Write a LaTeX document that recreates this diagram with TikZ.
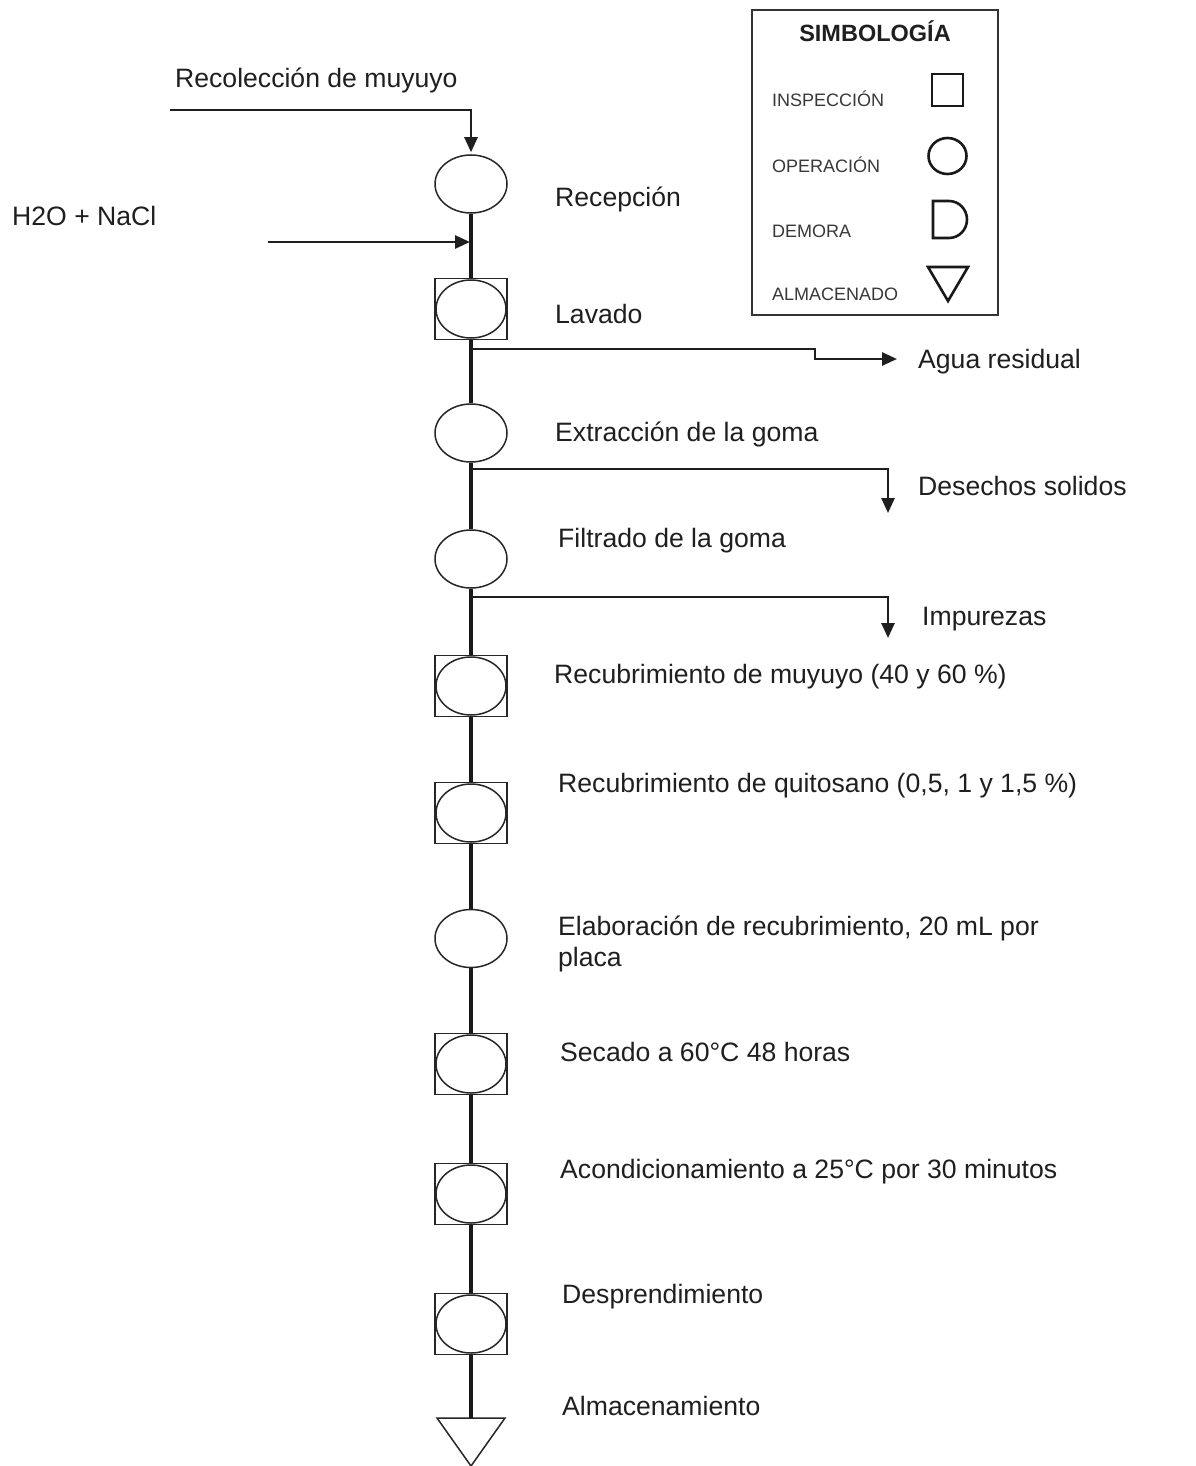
\documentclass[tikz,border=0pt]{standalone}
\usepackage{fontspec}
\setmainfont{Liberation Sans}
\usetikzlibrary{shapes.geometric,arrows.meta}
\begin{document}
\begin{tikzpicture}[x=1pt,y=-1pt,
 txt/.style={anchor=base west, inner sep=0pt, text=black!88, font=\fontsize{26.6}{30}\selectfont},
 leg/.style={anchor=base west, inner sep=0pt, text=black!78, font=\fontsize{18}{21}\selectfont},
 oper/.style={ellipse, draw=black!85, line width=1.5pt, minimum width=72pt, minimum height=58pt, inner sep=0pt},
 combo/.style={rectangle, draw=black!85, line width=1.6pt, minimum width=72pt, minimum height=61pt, inner sep=0pt,
   path picture={\draw[line width=1.5pt, black!85] (path picture bounding box.center) ellipse (35pt and 29pt);}},
 flow/.style={line width=3.4pt, black!90},
 side/.style={line width=2.6pt, black!88, -{Triangle[length=15pt,width=13pt]}},
 legsym/.style={line width=2.6pt, black!90},
]
\useasboundingbox (0,0) rectangle (1195,1466);
\fill[white] (0,0) rectangle (1195,1466);

% legend
\node[draw=black!80, line width=1.6pt, minimum width=246pt, minimum height=305pt, inner sep=0pt] (legend) at (875,162.5) {};
\node[anchor=base, inner sep=0pt, text=black!88, font=\fontsize{23.5}{26}\selectfont\bfseries] (legtitle) at (875,42) {SIMBOLOGÍA};
\node[leg] (l1) at (772,107) {INSPECCIÓN};
\node[leg] (l2) at (772,173) {OPERACIÓN};
\node[leg] (l3) at (772,237) {DEMORA};
\node[leg] (l4) at (772,300) {ALMACENADO};
\draw[legsym, line width=2.2pt] (932,74) rectangle (963,106);
\draw[legsym] (947.5,156) ellipse (19pt and 18pt);
\draw[legsym, line join=miter] (933,201) -- (949,201) arc[start angle=-90, end angle=90, x radius=18, y radius=18.5] -- (933,238) -- cycle;
\draw[legsym, line join=miter] (928,267) -- (968,267) -- (948,301) -- cycle;

% process symbols
\node[oper] (recep) at (471,184) {};
\node[combo] (lav) at (471,309) {};
\node[oper] (extr) at (471,433) {};
\node[oper] (filt) at (471,559) {};
\node[combo] (rmuy) at (471,686) {};
\node[combo] (rqui) at (471,813) {};
\node[oper] (elab) at (471,938.5) {};
\node[combo] (sec) at (471,1064) {};
\node[combo] (acon) at (471,1194) {};
\node[combo] (desp) at (471,1324) {};
\coordinate (alm) at (471,1418);
\draw[draw=black!85, fill=white, line width=1.5pt] (437,1418) -- (505,1418) -- (471,1466) -- cycle;

% main flow line
\draw[flow] (recep.south) -- (lav.north);
\draw[flow] (lav.south) -- (extr.north);
\draw[flow] (extr.south) -- (filt.north);
\draw[flow] (filt.south) -- (rmuy.north);
\draw[flow] (rmuy.south) -- (rqui.north);
\draw[flow] (rqui.south) -- (elab.north);
\draw[flow] (elab.south) -- (sec.north);
\draw[flow] (sec.south) -- (acon.north);
\draw[flow] (acon.south) -- (desp.north);
\draw[flow] (desp.south) -- (alm);

% inputs
\coordinate (recolStart) at (170,110);
\draw[side] (recolStart) -| ([yshift=2pt]recep.north);
\coordinate (h2oStart) at (268,242);
\coordinate (h2oEnd) at (470,242);
\draw[side] (h2oStart) -- (h2oEnd);

% outputs
\coordinate (b1) at (471,349);
\coordinate (aguaTip) at (897,359);
\draw[side] (b1) -- ++(344,0) |- (aguaTip);
\coordinate (b2) at (471,469);
\coordinate (desTip) at (888,513);
\draw[side] (b2) -| (desTip);
\coordinate (b3) at (471,597);
\coordinate (impTip) at (888,638);
\draw[side] (b3) -| (impTip);

% labels
\node[txt] (t0) at (175,88) {Recolección de muyuyo};
\node[txt] (t00) at (12,225) {H2O + NaCl};
\node[txt] (t1) at (555,206) {Recepción};
\node[txt] (t2) at (555,323) {Lavado};
\node[txt] (t3) at (918,368) {Agua residual};
\node[txt] (t4) at (555,441) {Extracción de la goma};
\node[txt] (t5) at (918,495) {Desechos solidos};
\node[txt] (t6) at (558,547) {Filtrado de la goma};
\node[txt] (t7) at (922,625) {Impurezas};
\node[txt] (t8) at (554,683) {Recubrimiento de muyuyo (40 y 60 \%)};
\node[txt] (t9) at (558,792) {Recubrimiento de quitosano (0,5, 1 y 1,5 \%)};
\node[txt] (t10) at (558,935) {Elaboración de recubrimiento, 20 mL por};
\node[txt] (t10b) at (558,966) {placa};
\node[txt] (t11) at (560,1061) {Secado a 60°C 48 horas};
\node[txt] (t12) at (560,1178) {Acondicionamiento a 25°C por 30 minutos};
\node[txt] (t13) at (562,1303) {Desprendimiento};
\node[txt] (t14) at (562,1415) {Almacenamiento};
\end{tikzpicture}
\end{document}
